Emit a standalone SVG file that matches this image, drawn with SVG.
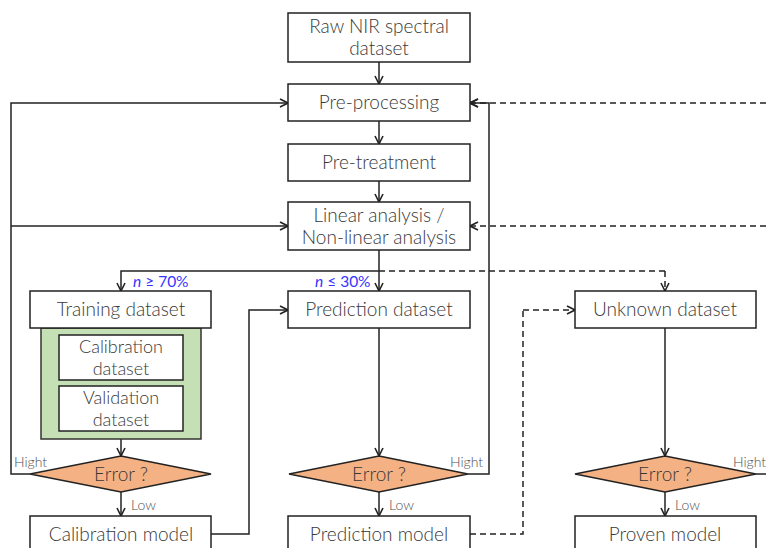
<svg xmlns="http://www.w3.org/2000/svg" width="766" height="548" viewBox="0 0 766 548">
<defs>
<marker id="ah" viewBox="0 0 10 10" refX="9" refY="5" markerWidth="10" markerHeight="10" markerUnits="userSpaceOnUse" orient="auto">
<path d="M1,1 L9,5 L1,9" fill="none" stroke="#222" stroke-width="1.6"/>
</marker>
<style>
.box{fill:#fff;stroke:#222;stroke-width:1.5}
.dia{fill:#F4B183;stroke:#222;stroke-width:1.5}
.grn{fill:#C5E0B4;stroke:#333;stroke-width:1.5}
.t{font-family:Lato,"Open Sans","Liberation Sans",sans-serif;font-weight:300;font-size:19px;fill:#383838;text-anchor:middle}
.ti{font-family:Lato,"Open Sans","Liberation Sans",sans-serif;font-weight:300;font-size:18px;fill:#383838;text-anchor:middle}
.s{font-family:Lato,"Open Sans","Liberation Sans",sans-serif;font-weight:300;font-size:14px;fill:#505050}
.b{font-family:Lato,"Open Sans","Liberation Sans",sans-serif;font-size:15.5px;fill:#3535FF}
.ln{fill:none;stroke:#222;stroke-width:1.5}
.ar{fill:none;stroke:#222;stroke-width:1.5;marker-end:url(#ah)}
.da{fill:none;stroke:#222;stroke-width:1.5;stroke-dasharray:6,4;marker-end:url(#ah)}
.dl{fill:none;stroke:#222;stroke-width:1.5;stroke-dasharray:6,4}
</style>
</defs>
<g id="connectors">
<path class="ar" d="M379,62 V84"/>
<path class="ar" d="M379,121 V144"/>
<path class="ar" d="M379,181 V202"/>
<path class="ar" d="M379,250 V291"/>
<path class="ar" d="M379,271 H121 V291"/>
<path class="dl" d="M379,271 H665"/>
<path class="da" d="M665,271 V291"/>
<path class="ar" d="M30,474 H11 V103 H288"/>
<path class="ar" d="M11,226 H288"/>
<path class="ar" d="M468,474 H489 V103 H470"/>
<path class="da" d="M766,103 H470"/>
<path class="da" d="M766,226 H470"/>
<path class="ar" d="M121,439 V456"/>
<path class="ar" d="M121,492 V516"/>
<path class="ar" d="M379,328 V456"/>
<path class="ar" d="M379,492 V516"/>
<path class="ar" d="M665,328 V456"/>
<path class="ar" d="M665,492 V516"/>
<path class="ar" d="M211,534 H249 V310 H288"/>
<path class="dl" d="M470,534 H523 V310"/>
<path class="da" d="M523,310 H575"/>
<path class="ln" d="M756,474 H766"/>
</g>
<g id="raw"><rect class="box" x="288" y="13" width="182" height="49"/><text class="t" x="379" y="33">Raw NIR spectral</text><text class="t" x="379" y="55">dataset</text></g>
<g id="preproc"><rect class="box" x="288" y="84" width="182" height="37"/><text class="t" x="379" y="109">Pre-processing</text></g>
<g id="pretreat"><rect class="box" x="288" y="144" width="182" height="37"/><text class="t" x="379" y="169">Pre-treatment</text></g>
<g id="analysis"><rect class="box" x="288" y="202" width="182" height="48"/><text class="t" x="379" y="222">Linear analysis /</text><text class="t" x="379" y="244">Non-linear analysis</text></g>
<g id="lbl70"><text class="b" x="133" y="287"><tspan font-style="italic">n</tspan> ≥ 70%</text></g>
<g id="lbl30"><text class="b" x="315" y="287"><tspan font-style="italic">n</tspan> ≤ 30%</text></g>
<g id="training">
<rect class="grn" x="41" y="328" width="160" height="111"/>
<rect class="box" x="30" y="291" width="181" height="37"/><text class="t" x="121" y="316">Training dataset</text>
</g>
<g id="calds"><rect class="box" x="59" y="335" width="124" height="45"/><text class="ti" x="121" y="353">Calibration</text><text class="ti" x="121" y="375">dataset</text></g>
<g id="valds"><rect class="box" x="59" y="386" width="124" height="45"/><text class="ti" x="121" y="404">Validation</text><text class="ti" x="121" y="426">dataset</text></g>
<g id="err1"><polygon class="dia" points="121,456 211,474 121,492 30,474"/><text class="t" x="121" y="481">Error ?</text><text class="s" x="14" y="467">Hight</text><text class="s" x="131" y="510">Low</text></g>
<g id="calmodel"><rect class="box" x="30" y="516" width="181" height="40"/><text class="t" x="121" y="541">Calibration model</text></g>
<g id="predds"><rect class="box" x="288" y="291" width="182" height="37"/><text class="t" x="379" y="316">Prediction dataset</text></g>
<g id="err2"><polygon class="dia" points="379,456 468,474 379,492 289,474"/><text class="t" x="379" y="481">Error ?</text><text class="s" x="450" y="467">Hight</text><text class="s" x="389" y="510">Low</text></g>
<g id="predmodel"><rect class="box" x="288" y="516" width="182" height="40"/><text class="t" x="379" y="541">Prediction model</text></g>
<g id="unkds"><rect class="box" x="575" y="291" width="181" height="37"/><text class="t" x="665" y="316">Unknown dataset</text></g>
<g id="err3"><polygon class="dia" points="665,456 756,474 665,492 575,474"/><text class="t" x="665" y="481">Error ?</text><text class="s" x="733" y="467">Hight</text><text class="s" x="675" y="510">Low</text></g>
<g id="proven"><rect class="box" x="575" y="516" width="181" height="40"/><text class="t" x="665" y="541">Proven model</text></g>
</svg>
